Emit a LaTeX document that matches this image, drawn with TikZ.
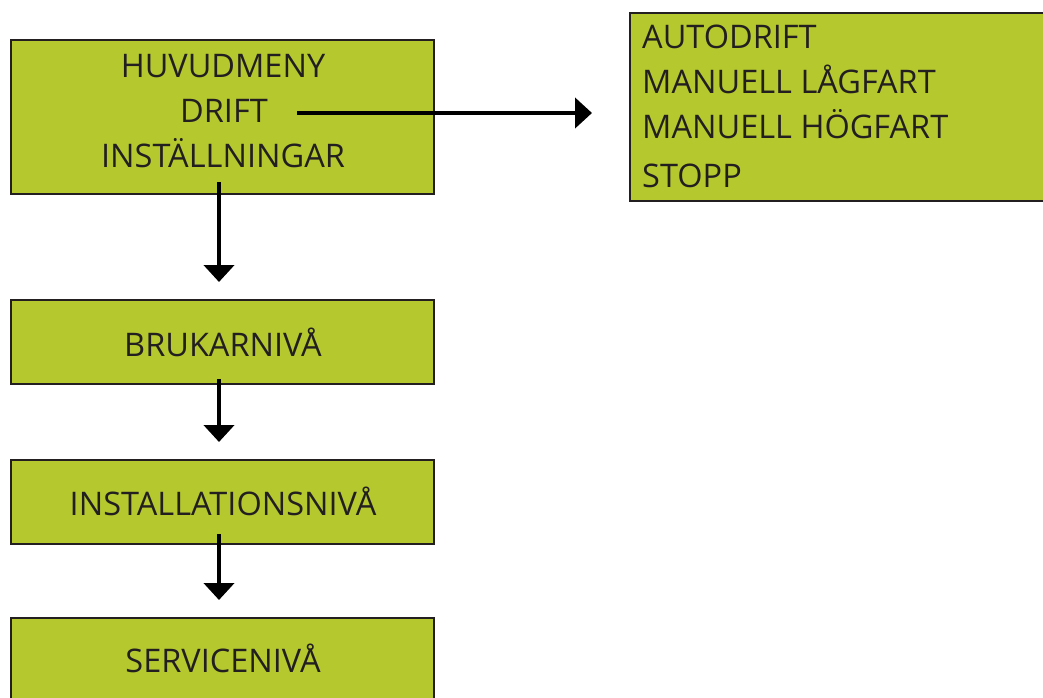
\documentclass[tikz,border=0pt]{standalone}
\usepackage{fontspec}
\setmainfont{Open Sans}
\usetikzlibrary{arrows.meta}

\definecolor{menygreen}{RGB}{181,201,47}
\definecolor{ramgray}{RGB}{35,31,32}

\tikzset{
  menybox/.style={rectangle, draw=ramgray, line width=2pt, fill=menygreen, minimum width=423pt, inner sep=0pt},
  menytext/.style={font=\fontsize{32.5}{38}\selectfont, text=ramgray, inner sep=0pt, anchor=base},
  pil/.style={line width=4.5pt, -{Triangle[length=17pt,width=30pt]}}
}

\begin{document}
\begin{tikzpicture}[x=1pt, y=-1pt]
  \useasboundingbox (0,0) rectangle (1043,697);

  \node (huvud) [menybox, minimum height=154pt] at (222.5, 117) {};
  \node (meny) [menytext] at (223, 77) {HUVUDMENY};
  \node (drift) [menytext] at (224, 122) {DRIFT};
  \node (inst) [menytext] at (223, 167) {INSTÄLLNINGAR};

  \node (val) [menybox, minimum width=440pt, minimum height=188pt] at (850, 107) {};
  \node (auto) [menytext, anchor=base west] at (642, 48) {AUTODRIFT};
  \node (lag) [menytext, anchor=base west] at (642, 93) {MANUELL LÅGFART};
  \node (hog) [menytext, anchor=base west] at (642, 138) {MANUELL HÖGFART};
  \node (stopp) [menytext, anchor=base west] at (642, 187) {STOPP};

  \node (bruk) [menybox, minimum height=84pt] at (222.5, 342) {};
  \node [menytext] at (223, 356) {BRUKARNIVÅ};

  \node (install) [menybox, minimum height=84pt] at (222.5, 502) {};
  \node [menytext] at (223, 515) {INSTALLATIONSNIVÅ};

  \node (service) [menybox, minimum height=84pt] at (222.5, 660) {};
  \node [menytext] at (223, 672) {SERVICENIVÅ};

  \coordinate (driftut) at (297, 113);
  \coordinate (valin) at (592, 113);
  \coordinate (instut) at (219, 182);
  \coordinate (brukin) at (219, 282);
  \coordinate (brukut) at (219, 379);
  \coordinate (installin) at (219, 442);
  \coordinate (installut) at (219, 534);
  \coordinate (servicein) at (219, 600);

  \draw[pil] (driftut) -- (valin);
  \draw[pil] (instut) -- (brukin);
  \draw[pil] (brukut) -- (installin);
  \draw[pil] (installut) -- (servicein);
\end{tikzpicture}
\end{document}
